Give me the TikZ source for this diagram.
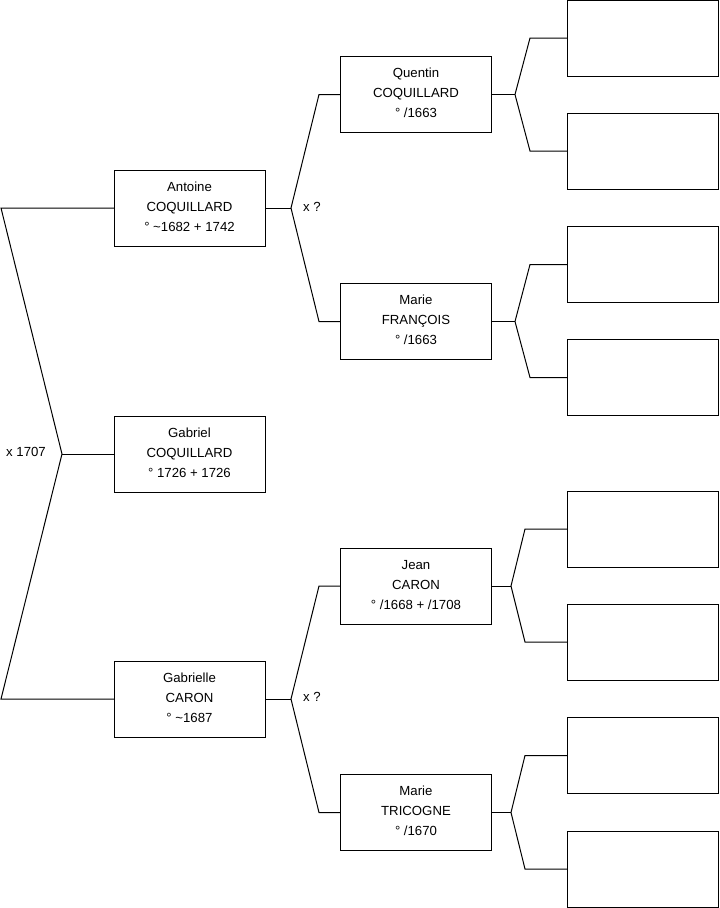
\documentclass[tikz,border=0pt]{standalone}
\usepackage{fontspec}
\setmainfont{Liberation Sans}
\newcommand{\lift}{\\[-17.5pt]\strut}
\begin{document}
\begin{tikzpicture}[x=0.75pt,y=-0.75pt,
  person/.style={draw=black,line width=0.75pt,minimum width=113.25pt,minimum height=57pt,inner sep=0pt,outer sep=0pt,align=center,font=\fontsize{9.9pt}{15pt}\selectfont},
  blank/.style={person},
  link/.style={draw=black,line width=0.75pt},
  lbl/.style={font=\fontsize{9.9pt}{11pt}\selectfont,inner sep=0pt}]
\useasboundingbox (0,0) rectangle (719,908);
% generation 1
\node[person] (antoine) at (189.5,208) {Antoine\\COQUILLARD\\° \textasciitilde1682 + 1742\lift};
\node[person] (gabriel) at (189.5,454) {Gabriel\\COQUILLARD\\° 1726 + 1726\lift};
\node[person] (gabrielle) at (189.5,699) {Gabrielle\\CARON\\° \textasciitilde1687\lift};
% generation 2
\node[person] (quentin) at (416,94.5) {Quentin\\COQUILLARD\\° /1663\lift};
\node[person] (marief) at (416,321.5) {Marie\\FRANÇOIS\\° /1663\lift};
\node[person] (jean) at (416,586) {Jean\\CARON\\° /1668 + /1708\lift};
\node[person] (mariet) at (416,812.5) {Marie\\TRICOGNE\\° /1670\lift};
% generation 3
\node[blank] (b1) at (642.5,38) {};
\node[blank] (b2) at (642.5,151) {};
\node[blank] (b3) at (642.5,264.5) {};
\node[blank] (b4) at (642.5,377.5) {};
\node[blank] (b5) at (642.5,529) {};
\node[blank] (b6) at (642.5,642) {};
\node[blank] (b7) at (642.5,755.5) {};
\node[blank] (b8) at (642.5,869) {};
% coordinates
\coordinate (l1) at (1,208);
\coordinate (f0) at (62,454);
\coordinate (l2) at (1,699);
\coordinate (f1) at (291,208);
\coordinate (q1) at (319,94.5);
\coordinate (m1) at (319,321.5);
\coordinate (f2) at (291,699);
\coordinate (j1) at (319,586);
\coordinate (t1) at (319,812.5);
\coordinate (fq) at (515,94.5);
\coordinate (fq1) at (530,38);
\coordinate (fq2) at (530,151);
\coordinate (fm) at (515,321.5);
\coordinate (fm1) at (530,264.5);
\coordinate (fm2) at (530,377.5);
\coordinate (fj) at (511,586);
\coordinate (fj1) at (525,529);
\coordinate (fj2) at (525,642);
\coordinate (ft) at (511,812.5);
\coordinate (ft1) at (525,755.5);
\coordinate (ft2) at (525,869);
% connectors
\draw[link] (antoine.west) -- (l1) -- (f0) -- (l2) -- (gabrielle.west);
\draw[link] (f0) -- (gabriel.west);
\draw[link] (antoine.east) -- (f1);
\draw[link] (quentin.west) -- (q1) -- (f1) -- (m1) -- (marief.west);
\draw[link] (gabrielle.east) -- (f2);
\draw[link] (jean.west) -- (j1) -- (f2) -- (t1) -- (mariet.west);
\draw[link] (quentin.east) -- (fq);
\draw[link] (b1.west) -- (fq1) -- (fq) -- (fq2) -- (b2.west);
\draw[link] (marief.east) -- (fm);
\draw[link] (b3.west) -- (fm1) -- (fm) -- (fm2) -- (b4.west);
\draw[link] (jean.east) -- (fj);
\draw[link] (b5.west) -- (fj1) -- (fj) -- (fj2) -- (b6.west);
\draw[link] (mariet.east) -- (ft);
\draw[link] (b7.west) -- (ft1) -- (ft) -- (ft2) -- (b8.west);
% labels
\node[lbl] (m0) at (26,452) {x 1707};
\node[lbl] (ma) at (312,207) {x ?};
\node[lbl] (mb) at (312,697) {x ?};
\end{tikzpicture}
\end{document}
